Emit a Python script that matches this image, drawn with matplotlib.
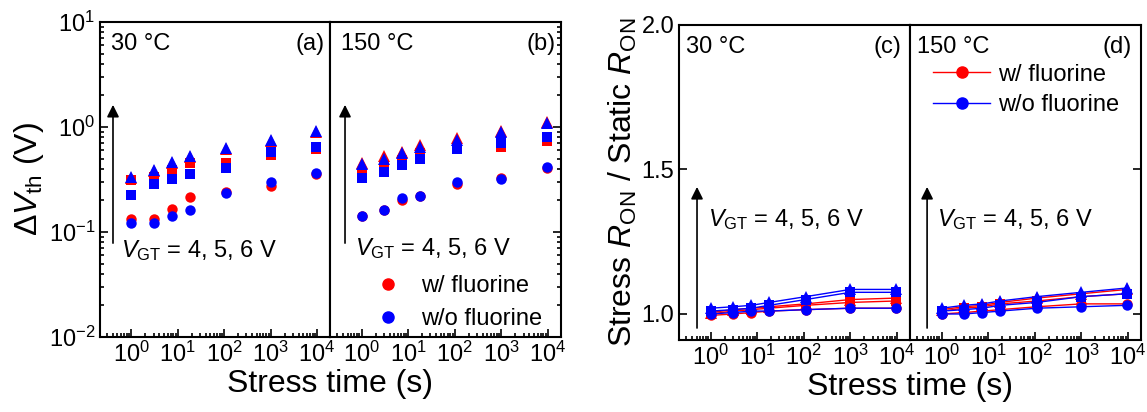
"""---------------------------------------------------------------------------------
Threshold voltage shift and dynamic R_ON vs stress time, with / without fluorine
---------------------------------------------------------------------------------"""
import numpy as np
import matplotlib
matplotlib.use("Agg")
import matplotlib.pyplot as plt
from matplotlib.ticker import LogLocator, FixedLocator, FormatStrFormatter, NullFormatter

plt.rcParams['font.family'] = ['Liberation Sans', 'DejaVu Sans']
plt.rcParams['mathtext.fontset'] = 'custom'
plt.rcParams['mathtext.rm'] = 'Liberation Sans'
plt.rcParams['mathtext.it'] = 'Liberation Sans:italic'
plt.rcParams['mathtext.bf'] = 'Liberation Sans:bold'

# stress time (s), same for every series
stress_time = [1, 3, 7.5, 18, 110, 1000, 9500]
gate_voltages = [4, 5, 6]
markers = ['o', 's', '^']

# delta Vth (V), rows = VGT 4, 5, 6 V
dvth_30C_with = [[0.133, 0.133, 0.164, 0.214, 0.242, 0.276, 0.354],
                 [0.31, 0.336, 0.39, 0.45, 0.45, 0.54, 0.62],
                 [0.33, 0.38, 0.45, 0.52, 0.62, 0.74, 0.90]]
dvth_30C_without = [[0.121, 0.123, 0.141, 0.162, 0.233, 0.30, 0.362],
                    [0.224, 0.286, 0.32, 0.356, 0.41, 0.574, 0.65],
                    [0.332, 0.39, 0.46, 0.53, 0.63, 0.76, 0.92]]
dvth_150C_with = [[0.142, 0.162, 0.20, 0.22, 0.286, 0.324, 0.41],
                  [0.367, 0.425, 0.49, 0.56, 0.64, 0.64, 0.73],
                  [0.45, 0.53, 0.58, 0.67, 0.78, 0.92, 1.12]]
dvth_150C_without = [[0.142, 0.162, 0.21, 0.22, 0.30, 0.318, 0.42],
                     [0.33, 0.37, 0.435, 0.495, 0.62, 0.71, 0.81],
                     [0.44, 0.50, 0.57, 0.65, 0.76, 0.90, 1.10]]

# stress R_ON / static R_ON, rows = VGT 4, 5, 6 V
ron_30C_with = [[0.995, 1.0, 1.005, 1.01, 1.015, 1.02, 1.02],
                [1.0, 1.01, 1.015, 1.02, 1.03, 1.04, 1.045],
                [1.005, 1.015, 1.02, 1.025, 1.035, 1.05, 1.055]]
ron_30C_without = [[1.0, 1.005, 1.01, 1.01, 1.015, 1.02, 1.02],
                   [1.01, 1.015, 1.02, 1.03, 1.05, 1.075, 1.075],
                   [1.02, 1.025, 1.03, 1.04, 1.06, 1.085, 1.085]]
ron_150C_with = [[1.0, 1.005, 1.01, 1.015, 1.025, 1.035, 1.035],
                 [1.01, 1.02, 1.025, 1.035, 1.045, 1.06, 1.07],
                 [1.015, 1.025, 1.03, 1.04, 1.055, 1.07, 1.085]]
ron_150C_without = [[1.0, 1.0, 1.005, 1.01, 1.02, 1.025, 1.03],
                    [1.01, 1.015, 1.02, 1.03, 1.04, 1.06, 1.07],
                    [1.02, 1.03, 1.035, 1.045, 1.06, 1.075, 1.09]]

RED = '#ff0000'
BLUE = '#0000ff'
FS = 17


def styleAxis(ax, yside):
    ax.set_xscale('log')
    ax.set_xlim(0.21, 19000)
    ax.xaxis.set_major_locator(LogLocator(base=10, numticks=10))
    ax.xaxis.set_minor_locator(LogLocator(base=10, subs=np.arange(2, 10), numticks=20))
    ax.xaxis.set_minor_formatter(NullFormatter())
    for s in ax.spines.values():
        s.set_linewidth(1.5)
    ax.tick_params(which='both', direction='in', width=1.2, labelsize=FS,
                   top=False, left=(yside == 'left'), right=(yside == 'right'),
                   labelleft=(yside == 'left'), labelright=False)
    ax.tick_params(which='major', length=6)
    ax.tick_params(which='minor', length=3)


def drawScatter(ax, with_f, without_f):
    for rows, col in ((with_f, RED), (without_f, BLUE)):
        for vals, m in zip(rows, markers):
            ax.plot(stress_time, vals, linestyle='none', marker=m, color=col,
                    markersize=8.5 if m == '^' else 7.5, markeredgewidth=0)


def drawLines(ax, with_f, without_f):
    for rows, col in ((with_f, RED), (without_f, BLUE)):
        for vals, m in zip(rows, markers):
            ax.plot(stress_time, vals, linestyle='-', lw=1.0, marker=m, color=col,
                    markersize=8.5 if m == '^' else 7.5, markeredgewidth=0)


def addLabels(ax, temp, tag, arrow_x, arrow_y, text_xy):
    ax.text(0.046 if ax.get_yscale() == 'log' else 0.03, 0.911, temp,
            transform=ax.transAxes, fontsize=FS, va='baseline', ha='left')
    ax.text(0.975 if ax.get_yscale() == 'log' else 0.962, 0.911, tag,
            transform=ax.transAxes, fontsize=FS, va='baseline', ha='right')
    ax.annotate('', xy=(arrow_x, arrow_y[1]), xytext=(arrow_x, arrow_y[0]),
                xycoords='axes fraction', textcoords='axes fraction',
                arrowprops=dict(arrowstyle='-|>', lw=1.2, color='k',
                                mutation_scale=18, shrinkA=0, shrinkB=0))
    ax.text(text_xy[0], text_xy[1], r'$\mathit{V}_{\mathrm{GT}}$ = 4, 5, 6 V',
            transform=ax.transAxes, fontsize=FS, va='baseline', ha='left')


def main():
    fig = plt.figure(figsize=(11.47, 4.12), dpi=100)
    w = 231 / 1147
    h = 315 / 412
    ax_a = fig.add_axes([100 / 1147, 1 - 337 / 412, 230 / 1147, h])
    ax_b = fig.add_axes([330 / 1147, 1 - 337 / 412, w, h])
    ax_c = fig.add_axes([679 / 1147, 1 - 340 / 412, w, h])
    ax_d = fig.add_axes([910 / 1147, 1 - 340 / 412, w, h])

    # left group: delta Vth on log scale
    for ax, side in ((ax_a, 'left'), (ax_b, 'right')):
        ax.set_yscale('log')
        ax.set_ylim(0.01, 10)
        ax.yaxis.set_major_locator(LogLocator(base=10, numticks=10))
        ax.yaxis.set_minor_locator(LogLocator(base=10, subs=np.arange(2, 10), numticks=20))
        ax.yaxis.set_minor_formatter(NullFormatter())
        styleAxis(ax, side)
    drawScatter(ax_a, dvth_30C_with, dvth_30C_without)
    drawScatter(ax_b, dvth_150C_with, dvth_150C_without)
    addLabels(ax_a, '30 °C', '(a)', 0.0565, (0.298, 0.737), (0.091, 0.254))
    addLabels(ax_b, '150 °C', '(b)', 0.065, (0.298, 0.737), (0.108, 0.260))
    ax_a.set_ylabel('Δ$\\mathit{V}_{\\mathrm{th}}$ (V)', fontsize=23, labelpad=2)

    h_w, = ax_b.plot([], [], 'o', color=RED, markersize=8, label='w/ fluorine')
    h_wo, = ax_b.plot([], [], 'o', color=BLUE, markersize=8, label='w/o fluorine')
    ax_b.legend(handles=[h_w, h_wo], loc='lower left', bbox_to_anchor=(0.12, -0.03),
                frameon=False, fontsize=FS, handlelength=1.2, handletextpad=0.8,
                labelspacing=0.45, borderpad=0.2)

    # right group: R_ON ratio on linear scale
    for ax, side in ((ax_c, 'left'), (ax_d, 'right')):
        ax.set_ylim(0.91, 2.0)
        ax.yaxis.set_major_locator(FixedLocator([1.0, 1.5, 2.0]))
        ax.yaxis.set_major_formatter(FormatStrFormatter('%.1f'))
        styleAxis(ax, side)
    drawLines(ax_c, ron_30C_with, ron_30C_without)
    drawLines(ax_d, ron_150C_with, ron_150C_without)
    addLabels(ax_c, '30 °C', '(c)', 0.078, (0.038, 0.486), (0.125, 0.362))
    addLabels(ax_d, '150 °C', '(d)', 0.074, (0.038, 0.486), (0.117, 0.362))
    ax_c.set_ylabel(r'Stress $\mathit{R}_{\mathrm{ON}}$ / Static $\mathit{R}_{\mathrm{ON}}$',
                    fontsize=23, labelpad=2)

    l_w, = ax_d.plot([], [], '-o', color=RED, lw=1.0, markersize=8, label='w/ fluorine')
    l_wo, = ax_d.plot([], [], '-o', color=BLUE, lw=1.0, markersize=8, label='w/o fluorine')
    ax_d.legend(handles=[l_w, l_wo], loc='upper left', bbox_to_anchor=(0.03, 0.93),
                frameon=False, fontsize=FS, handlelength=2.4, handletextpad=0.35,
                labelspacing=0.35, borderpad=0.2)

    fig.text(330 / 1147, 1 - 384 / 412, 'Stress time (s)', fontsize=23, ha='center', va='center')
    fig.text(910 / 1147, 1 - 387 / 412, 'Stress time (s)', fontsize=23, ha='center', va='center')

    fig.savefig('out.png', dpi=100)


if __name__ == "__main__":
    main()
